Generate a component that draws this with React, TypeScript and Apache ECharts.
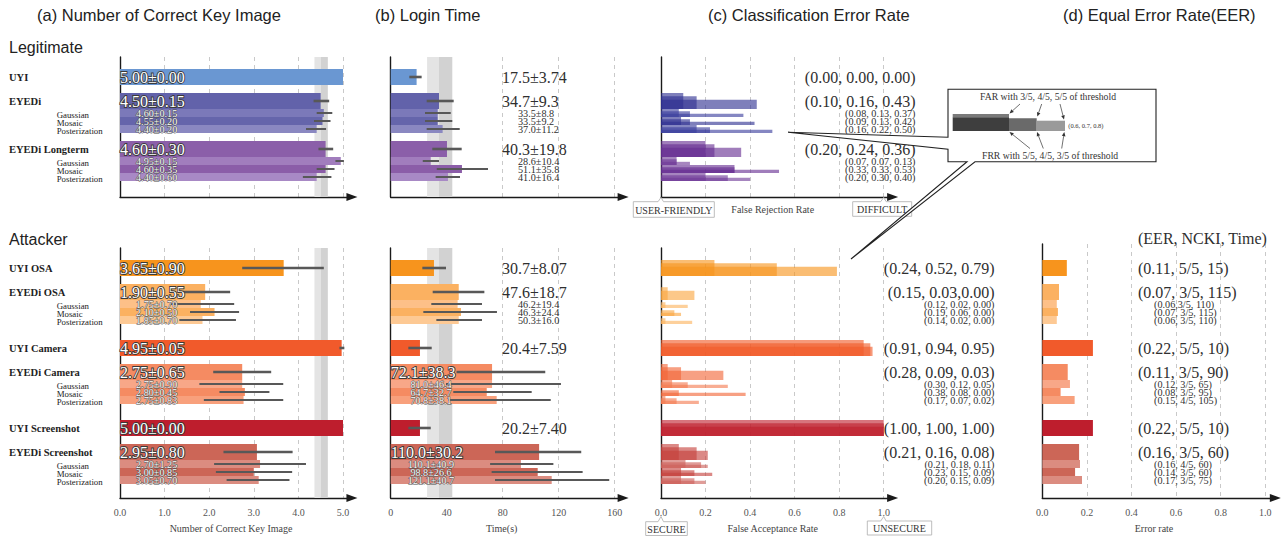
import React, { useEffect, useRef } from 'react';
import * as echarts from 'echarts';

const SERIF = "'Liberation Serif', 'Times New Roman', serif";
const SANS = "'Liberation Sans', Arial, Helvetica, sans-serif";

// ---------------- data ----------------
const subNames = ['Gaussian', 'Mosaic', 'Posterization'];
const legitNames = ['UYI', 'EYEDi', 'Gaussian', 'Mosaic', 'Posterization', 'EYEDi Longterm', 'Gaussian', 'Mosaic', 'Posterization'];
const attackNames = ['UYI OSA', 'EYEDi OSA', 'Gaussian', 'Mosaic', 'Posterization', 'UYI Camera', 'EYEDi Camera', 'Gaussian', 'Mosaic', 'Posterization', 'UYI Screenshot', 'EYEDi Screenshot', 'Gaussian', 'Mosaic', 'Posterization'];

// (a) Number of correct key image
const legitKey = [5.0, 4.5, 4.57, 4.54, 4.41, 4.61, 4.95, 4.61, 4.41];
const legitKeyLo = [5.0, 4.34, 4.41, 4.35, 4.17, 4.45, 4.83, 4.41, 4.10];
const legitKeyHi = [5.0, 4.69, 4.76, 4.72, 4.62, 4.78, 5.02, 4.81, 4.74];
const legitKeyText = ['5.00±0.00', '4.50±0.15', '4.60±0.15', '4.55±0.20', '4.40±0.20', '4.60±0.30', '4.95±0.15', '4.60±0.35', '4.40±0.60'];
const attackKey = [3.67, 1.91, 1.81, 2.12, 1.85, 4.97, 2.74, 2.74, 2.80, 2.77, 5.0, 3.07, 3.14, 3.0, 3.11];
const attackKeyLo = [2.74, 1.41, 1.12, 1.57, 1.33, 4.92, 2.09, 1.78, 2.23, 1.88, 5.0, 2.32, 2.11, 2.15, 2.39];
const attackKeyHi = [4.57, 2.47, 2.56, 2.67, 2.60, 5.03, 3.39, 3.66, 3.35, 3.66, 5.0, 3.87, 4.17, 3.86, 3.80];
const attackKeyText = ['3.65±0.90', '1.90±0.55', '1.75±0.70', '2.10±0.50', '1.85±0.70', '4.95±0.05', '2.75±0.65', '2.75±0.90', '2.80±0.45', '2.75±0.83', '5.00±0.00', '2.95±0.80', '2.70±1.25', '3.00±0.85', '3.05±0.70'];
const keyBand = [4.36, 4.5, 4.66];

// (b) Login time
const legitTime = [18.5, 34.5, 33.6, 33.6, 37.1, 40.2, 28.6, 50.9, 40.9];
const legitTimeLo = [13.3, 25.7, 24.5, 24.5, 25.7, 29.7, 22.9, 32.9, 32.1];
const legitTimeHi = [22.1, 45.0, 42.9, 44.0, 49.3, 50.7, 34.5, 69.5, 49.5];
const legitTimeText = ['17.5±3.74', '34.7±9.3', '33.5±8.8', '33.5±9.2', '37.0±11.2', '40.3±19.8', '28.6±10.4', '51.1±35.8', '41.0±16.4'];
const attackTime = [30.9, 48.6, 47.8, 50.2, 48.6, 20.9, 72.4, 72.4, 68.6, 75.7, 20.9, 106, 93, 105, 115];
const attackTimeLo = [22.6, 30.0, 29.0, 23.3, 32.6, 12.6, 47.0, 39.5, 44.7, 41.2, 12.6, 74.5, 71.0, 72.1, 74.5];
const attackTimeHi = [39.5, 66.9, 65.2, 75.9, 65.2, 29.3, 110.4, 121.6, 100.7, 114.3, 28.6, 136.1, 116.2, 137.1, 156.1];
const attackTimeText = ['30.7±8.07', '47.6±18.7', '46.2±19.4', '46.3±24.4', '50.3±16.0', '20.4±7.59', '72.1±38.3', '81.0±46.4', '64.7±32.7', '70.8±38.1', '20.2±7.40', '110.0±30.2', '110.1±40.9', '98.8±26.6', '121.1±40.7'];
const timeBand = [26, 34.5, 44];
const timeTicks = [0, 40, 80, 120, 160];

// (c) Classification error rate (three thresholds)
const legitFRR = [[0, 0, 0], [0.10, 0.16, 0.43], [0.08, 0.13, 0.37], [0.09, 0.13, 0.42], [0.16, 0.22, 0.50], [0.20, 0.24, 0.36], [0.07, 0.07, 0.13], [0.33, 0.33, 0.53], [0.20, 0.30, 0.40]];
const legitFRRText = ['(0.00, 0.00, 0.00)', '(0.10, 0.16, 0.43)', '(0.08, 0.13, 0.37)', '(0.09, 0.13, 0.42)', '(0.16, 0.22, 0.50)', '(0.20, 0.24, 0.36)', '(0.07, 0.07, 0.13)', '(0.33, 0.33, 0.53)', '(0.20, 0.30, 0.40)'];
const attackFAR = [[0.24, 0.52, 0.79], [0.15, 0.03, 0.00], [0.12, 0.02, 0.00], [0.09, 0.06, 0.00], [0.14, 0.02, 0.00], [0.91, 0.94, 0.95], [0.28, 0.09, 0.03], [0.30, 0.12, 0.05], [0.38, 0.08, 0.00], [0.17, 0.07, 0.02], [1.00, 1.00, 1.00], [0.21, 0.16, 0.08], [0.21, 0.18, 0.11], [0.23, 0.15, 0.09], [0.20, 0.15, 0.09]];
const attackFARText = ['(0.24, 0.52, 0.79)', '(0.15, 0.03,0.00)', '(0.12, 0.02, 0.00)', '(0.19, 0.06, 0.00)', '(0.14, 0.02, 0.00)', '(0.91, 0.94, 0.95)', '(0.28, 0.09, 0.03)', '(0.30, 0.12, 0.05)', '(0.38, 0.08, 0.00)', '(0.17, 0.07, 0.02)', '(1.00, 1.00, 1.00)', '(0.21, 0.16, 0.08)', '(0.21, 0.18, 0.11)', '(0.23, 0.15, 0.09)', '(0.20, 0.15, 0.09)'];

// (d) Equal error rate
const attackEER = [0.11, 0.075, 0.065, 0.07, 0.065, 0.227, 0.114, 0.124, 0.082, 0.145, 0.227, 0.165, 0.169, 0.147, 0.178];
const attackEERText = ['(0.11, 5/5, 15)', '(0.07, 3/5, 115)', '(0.06,3/5, 110)', '(0.07, 3/5, 115)', '(0.06, 3/5, 110)', '(0.22, 5/5, 10)', '(0.11, 3/5, 90)', '(0.12, 3/5, 65)', '(0.08, 3/5, 95)', '(0.15, 4/5, 105)', '(0.22, 5/5, 10)', '(0.16, 3/5, 60)', '(0.16, 4/5, 60)', '(0.14, 3/5, 60)', '(0.17, 3/5, 75)'];

// ---------------- layout & style ----------------
const legitGaps = [0, 1, 0, 0, 0, 1, 0, 0, 0];
const attackGaps = [0, 1, 0, 0, 0, 2, 1, 0, 0, 0, 2, 1, 0, 0, 0];
const attackTimeInside = [false, false, false, false, false, false, true, true, true, true, false, true, true, true, true];

const legitColors = ['#6a97d2', '#6262aa', '#7b79b9', '#6565ab', '#8a88c1', '#8b5fa9', '#a17dbd', '#8b5da8', '#a889c5'];
const attackColors = ['#f7941d', '#fbb161', '#fdc088', '#fbb161', '#fdc994', '#f15a2b', '#f58b62', '#f8a788', '#f58b62', '#f8a07c', '#be1e2d', '#cc6657', '#db8c80', '#cc6657', '#db8c80'];
const legitRateColors = ['#2e3192', '#2e3192', '#3a3d9c', '#2e3192', '#3a3d9c', '#662d91', '#6f3a98', '#662d91', '#6f3a98'];
const attackRateColors = ['#f7941d', '#faa640', '#fbb35e', '#faa640', '#fbb35e', '#f15a29', '#f26537', '#f47a50', '#f26537', '#f47a50', '#be1e2d', '#c5403c', '#cd5f58', '#c5403c', '#cd5f58'];

const isSub = (n: string) => subNames.indexOf(n) >= 0;
function slotTops(names: string[], gaps: number[]) {
  let s = 0;
  return names.map((n, i) => {
    s += gaps[i];
    const t = s;
    s += isSub(n) ? 1 : 2;
    return t;
  });
}
const legitSlots = slotTops(legitNames, legitGaps);
const attackSlots = slotTops(attackNames, attackGaps);

const PANELS: any = {
  a: { left: 120, unit: 44.6, max: 5.2, interval: 1, dec: 1 },
  b: { left: 390.7, unit: 1.4, max: 166, interval: 40, dec: 0 },
  c: { left: 661, unit: 222.7, max: 1.04, interval: 0.2, dec: 1 },
  d: { left: 1042.3, unit: 223, max: 1.045, interval: 0.2, dec: 1 },
};
const ROWS_TOP = { top: 57, height: 140, min: -1.5, max: 16 };
const ROWS_BOT = { top: 248, height: 250, min: -1.5, max: 29.75 };
const ROWS_BOT_D = { top: 244, height: 254, min: -2, max: 29.75 };

function txt(text: string, x: number, y: number, size: number, opt: any = {}) {
  return {
    type: 'text', x, y, z2: opt.z2 || 5,
    style: {
      text, fontSize: size, fontFamily: opt.family || SERIF, fontWeight: opt.weight || 'normal',
      fill: opt.fill || '#2a2a2a', stroke: opt.stroke, lineWidth: opt.lineWidth, strokeFirst: !!opt.stroke,
      align: opt.align || 'left', textAlign: opt.align || 'left',
      verticalAlign: 'middle', textVerticalAlign: 'middle',
    },
  };
}
const outlined = (text: string, x: number, y: number, size: number, align = 'left') =>
  txt(text, x, y, size, { fill: '#ffffff', stroke: size > 12 ? '#3a3a3a' : '#4a4a4a', lineWidth: size > 12 ? 1.8 : 0.9, align, z2: 8 });

function errLine(x1: number, x2: number, y: number, sub: boolean) {
  return { type: 'line', z2: 6, shape: { x1, y1: y, x2, y2: y }, style: { stroke: '#585858', lineWidth: sub ? 2 : 2.6 } };
}

function barRender(names: string[], slots: number[], lo: number[] | null, hi: number[] | null, colors: string[], labelFn: any) {
  return (params: any, api: any) => {
    const i = params.dataIndex;
    const sub = isSub(names[i]);
    const s = slots[i];
    const h = sub ? 1 : 2;
    const v = api.value(0);
    const p0 = api.coord([0, s]);
    const p1 = api.coord([v, s + h]);
    const yc = (p0[1] + p1[1]) / 2;
    const ch: any[] = [{ type: 'rect', shape: { x: p0[0], y: p0[1], width: p1[0] - p0[0], height: p1[1] - p0[1] }, style: { fill: colors[i] } }];
    if (lo && hi && hi[i] > lo[i]) ch.push(errLine(api.coord([lo[i], s])[0], api.coord([hi[i], s])[0], yc, sub));
    labelFn(i, sub, p0[0], yc, ch);
    return { type: 'group', children: ch };
  };
}

function rateRender(names: string[], slots: number[], colors: string[], texts: string[], labelRight: number) {
  return (params: any, api: any) => {
    const i = params.dataIndex;
    const sub = isSub(names[i]);
    const s = slots[i];
    const h = sub ? 1 : 2;
    const vals = [api.value(0), api.value(1), api.value(2)].sort((a, b) => a - b);
    const fr = sub ? [1, 0.72, 0.4] : [1, 0.8, 0.58];
    const top = api.coord([0, s]);
    const bot = api.coord([0, s + h]);
    const H = bot[1] - top[1];
    const ch: any[] = vals.map((v, k) => {
      const e = api.coord([v, s])[0];
      return { type: 'rect', shape: { x: top[0], y: bot[1] - H * fr[k], width: e - top[0], height: H * fr[k] }, style: { fill: colors[i], opacity: 0.62 } };
    });
    ch.push(txt(texts[i], labelRight, (top[1] + bot[1]) / 2 + 0.5, sub ? 10.2 : 16, { align: 'right', fill: '#2f2f2f' }));
    return { type: 'group', children: ch };
  };
}

function keyLabels(names: string[], texts: string[]) {
  return (i: number, sub: boolean, x0: number, yc: number, ch: any[]) => {
    ch.push(outlined(texts[i], sub ? x0 + 16 : x0, yc + 0.5, sub ? 10.2 : 16));
    if (sub) ch.push(txt(names[i], 56.7, yc + 1.5, 8.8, { fill: '#222' }));
    else ch.push(txt(names[i], 9, yc, 10.5, { weight: 'bold', fill: '#1e1e1e' }));
  };
}
function timeLabels(texts: string[], inside: boolean[] | null) {
  return (i: number, sub: boolean, x0: number, yc: number, ch: any[]) => {
    if (inside && inside[i]) {
      if (sub) ch.push(outlined(texts[i], x0 + 40.3, yc + 0.5, 10.2, 'center'));
      else ch.push(outlined(texts[i], x0, yc + 0.5, 16));
    } else {
      ch.push(txt(texts[i], sub ? x0 + 127.3 : x0 + 111.3, yc + 0.5, sub ? 10.2 : 16, { fill: '#2f2f2f' }));
    }
  };
}
function eerLabels(texts: string[]) {
  return (i: number, sub: boolean, x0: number, yc: number, ch: any[]) => {
    ch.push(txt(texts[i], sub ? x0 + 111.7 : x0 + 95.7, yc + 0.5, sub ? 10.2 : 16, { fill: '#2f2f2f' }));
  };
}

function band(b: number[]) {
  return {
    silent: true,
    data: [
      [{ xAxis: b[0], itemStyle: { color: '#e4e4e4' } }, { xAxis: b[1] }],
      [{ xAxis: b[1], itemStyle: { color: '#d2d2d2' } }, { xAxis: b[2] }],
    ],
  };
}

function calloutBox(x0: number, y0: number, x1: number, y1: number, tipX: number, tipY: number, label: string) {
  return [
    {
      type: 'polygon', z: 50,
      shape: { points: [[x0, y0], [tipX - 3, y0], [tipX, tipY], [tipX + 2.5, y0], [x1, y0], [x1, y1], [x0, y1]] },
      style: { fill: '#fff', stroke: '#b5b5b5', lineWidth: 0.9 },
    },
    { ...txt(label, (x0 + x1) / 2, (y0 + y1) / 2 + 0.5, 10, { align: 'center', fill: '#333' }), z: 51 },
  ];
}

function arrow(x1: number, y1: number, x2: number, y2: number) {
  const ang = Math.atan2(y2 - y1, x2 - x1);
  const L = 4.2, W = 1.8;
  const bx = x2 - L * Math.cos(ang), by = y2 - L * Math.sin(ang);
  const px = -Math.sin(ang) * W, py = Math.cos(ang) * W;
  return [
    { type: 'line', z: 61, shape: { x1, y1, x2: bx, y2: by }, style: { stroke: '#333', lineWidth: 0.7 } },
    { type: 'polygon', z: 61, shape: { points: [[x2, y2], [bx + px, by + py], [bx - px, by - py]] }, style: { fill: '#333' } },
  ];
}

function buildOption() {
  const gridDefs: any[] = [
    ['a', ROWS_TOP, false], ['b', ROWS_TOP, false], ['c', ROWS_TOP, false],
    ['a', ROWS_BOT, true], ['b', ROWS_BOT, true], ['c', ROWS_BOT, true], ['d', ROWS_BOT_D, true],
  ];
  const grid = gridDefs.map(([p, r]) => ({ left: PANELS[p].left, top: r.top, width: PANELS[p].unit * PANELS[p].max, height: r.height }));
  const xAxis = gridDefs.map(([p, , lab], k) => ({
    gridIndex: k, type: 'value', min: 0, max: PANELS[p].max, interval: PANELS[p].interval,
    axisLine: { show: true, onZero: false, symbol: ['none', 'triangle'], symbolSize: [8, 11], lineStyle: { color: '#1a1a1a', width: 1.4 } },
    axisTick: { show: false },
    axisLabel: {
      show: lab, showMaxLabel: false, showMinLabel: true, margin: 9,
      formatter: (v: number) => (p === 'b' ? (timeTicks.indexOf(Math.round(v)) >= 0 ? String(Math.round(v)) : '') : v.toFixed(PANELS[p].dec)),
      fontFamily: SERIF, fontSize: 10, color: '#555',
    },
    splitLine: { show: true, showMinLine: false, showMaxLine: false, lineStyle: { color: '#c9c9c9', type: [4, 4], width: 1 } },
  }));
  const yAxis = gridDefs.map(([, r], k) => ({
    gridIndex: k, type: 'value', inverse: true, min: r.min, max: r.max,
    axisLine: { show: true, onZero: false, lineStyle: { color: '#1a1a1a', width: 1.4 } },
    axisTick: { show: false }, axisLabel: { show: false }, splitLine: { show: false },
  }));

  const mk = (k: number, data: any[], renderItem: any, extra: any = {}) => ({
    type: 'custom', xAxisIndex: k, yAxisIndex: k, data, renderItem, encode: { x: 0, y: 1 }, clip: false, silent: true, z: 3, ...extra,
  });

  const series = [
    mk(0, legitKey.map((v, i) => [v, legitSlots[i]]), barRender(legitNames, legitSlots, legitKeyLo, legitKeyHi, legitColors, keyLabels(legitNames, legitKeyText)), { markArea: band(keyBand) }),
    mk(1, legitTime.map((v, i) => [v, legitSlots[i]]), barRender(legitNames, legitSlots, legitTimeLo, legitTimeHi, legitColors, timeLabels(legitTimeText, null)), { markArea: band(timeBand) }),
    mk(2, legitFRR.map((v, i) => [v[0], v[1], v[2], legitSlots[i]]), rateRender(legitNames, legitSlots, legitRateColors, legitFRRText, 915.5), { encode: { x: 0, y: 3 } }),
    mk(3, attackKey.map((v, i) => [v, attackSlots[i]]), barRender(attackNames, attackSlots, attackKeyLo, attackKeyHi, attackColors, keyLabels(attackNames, attackKeyText)), { markArea: band(keyBand) }),
    mk(4, attackTime.map((v, i) => [v, attackSlots[i]]), barRender(attackNames, attackSlots, attackTimeLo, attackTimeHi, attackColors, timeLabels(attackTimeText, attackTimeInside)), { markArea: band(timeBand) }),
    mk(5, attackFAR.map((v, i) => [v[0], v[1], v[2], attackSlots[i]]), rateRender(attackNames, attackSlots, attackRateColors, attackFARText, 994.5), { encode: { x: 0, y: 3 } }),
    mk(6, attackEER.map((v, i) => [v, attackSlots[i]]), barRender(attackNames, attackSlots, null, null, attackColors, eerLabels(attackEERText))),
  ];

  const g: any[] = [];
  // titles
  const title = (t: string, x: number) => g.push({ ...txt(t, x, 15, 16.5, { family: SANS, fill: '#222' }), z: 40 });
  title('(a) Number of Correct Key Image', 37);
  title('(b) Login Time', 375);
  title('(c) Classification Error Rate', 708);
  title('(d) Equal Error Rate(EER)', 1063);
  g.push({ ...txt('Legitimate', 9, 47, 16, { family: SANS, fill: '#222' }), z: 40 });
  g.push({ ...txt('Attacker', 9, 239, 16, { family: SANS, fill: '#222' }), z: 40 });
  g.push({ ...txt('(EER, NCKI, Time)', 1138, 238, 16, { fill: '#2f2f2f' }), z: 40 });
  // axis names
  const an = (t: string, x: number, y: number) => g.push({ ...txt(t, x, y, 10, { align: 'center', fill: '#444' }), z: 40 });
  an('Number of Correct Key Image', 231, 528);
  an('Time(s)', 501.7, 528);
  an('False Acceptance Rate', 772.7, 528);
  an('Error rate', 1154, 528);
  an('False Rejection Rate', 772.7, 209);
  // callout boxes
  g.push(...calloutBox(633.3, 201.7, 714.3, 217.3, 661, 197.5, 'USER-FRIENDLY'));
  g.push(...calloutBox(852.7, 201.7, 911.7, 216.3, 883.7, 197.5, 'DIFFICULT'));
  g.push(...calloutBox(645.7, 521.7, 687.3, 535.5, 661, 516.5, 'SECURE'));
  g.push(...calloutBox(867.3, 521, 931.7, 535, 883.7, 516.5, 'UNSECURE'));
  // inset bubble
  g.push({
    type: 'polygon', z: 60,
    shape: { points: [[948, 89.3], [1156, 89.3], [1156, 161.7], [975, 161.7], [851, 259], [967, 161.7], [948, 161.7], [948, 149.3], [788, 132.3], [948, 137.3]] },
    style: { fill: '#fff', stroke: '#222', lineWidth: 1.1 },
  });
  g.push({ type: 'rect', z: 61, shape: { x: 952.7, y: 114, width: 56.3, height: 3.3 }, style: { fill: '#7a7a7a' } });
  g.push({ type: 'rect', z: 61, shape: { x: 952.7, y: 117.3, width: 56.3, height: 13.7 }, style: { fill: '#3e3e3e' } });
  g.push({ type: 'rect', z: 61, shape: { x: 1009, y: 118.3, width: 27.7, height: 12.7 }, style: { fill: '#6a6a6a' } });
  g.push({ type: 'rect', z: 61, shape: { x: 1036.7, y: 120.7, width: 28.3, height: 10.3 }, style: { fill: '#9a9a9a' } });
  g.push({ ...txt('(0.6, 0.7, 0.8)', 1068.3, 125.7, 6.5, { fill: '#333' }), z: 61 });
  g.push({ ...txt('FAR with 3/5, 4/5, 5/5 of threshold', 980, 96.7, 9.7, { fill: '#333' }), z: 61 });
  g.push({ ...txt('FRR with 5/5, 4/5, 3/5 of threshold', 982, 155, 9.7, { fill: '#333' }), z: 61 });
  g.push(...arrow(1020, 104, 1009.5, 113.5));
  g.push(...arrow(1041.7, 104, 1037.3, 116.5));
  g.push(...arrow(1060, 104, 1064, 119.5));
  g.push(...arrow(1030, 148.5, 1009.5, 132));
  g.push(...arrow(1043.3, 148.5, 1037, 132));
  g.push(...arrow(1061.7, 148.5, 1064.3, 132));

  return {
    animation: false,
    backgroundColor: '#ffffff',
    grid, xAxis, yAxis, series,
    graphic: { elements: g },
  };
}

export default function App() {
  const ref = useRef<HTMLDivElement>(null);
  useEffect(() => {
    const chart = echarts.init(ref.current as HTMLDivElement, null, { renderer: 'svg' });
    chart.setOption(buildOption() as any);
    return () => chart.dispose();
  }, []);
  return <div ref={ref} style={{ position: 'fixed', left: 0, top: 0, width: 1287, height: 536, background: '#fff' }} />;
}
